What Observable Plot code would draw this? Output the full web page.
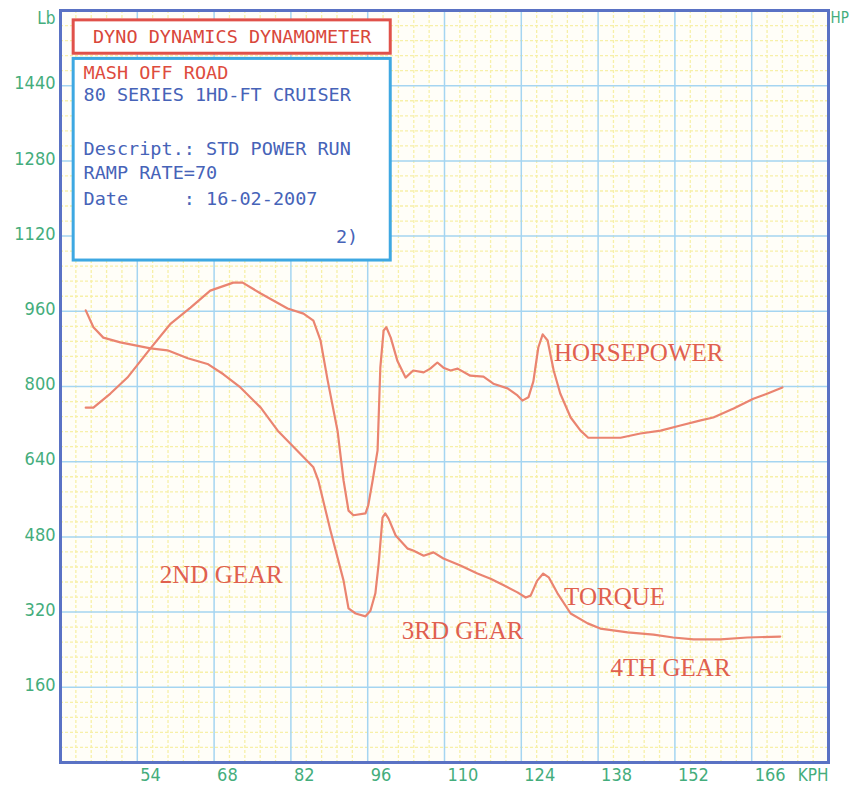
<!DOCTYPE html>
<html>
<head>
<meta charset="utf-8">
<script src="https://cdn.jsdelivr.net/npm/d3@7"></script>
<script src="https://cdn.jsdelivr.net/npm/@observablehq/plot@0.6"></script>
<style>
  html, body { margin: 0; padding: 0; background: #ffffff; }
  #chart { width: 850px; height: 786px; }
</style>
</head>
<body>
<div id="chart"></div>
<script>
// ---- Data read from the dyno sheet ----
// Torque (Lb) curve: speed in KPH and value
const torqueKph = [44.6, 46.0, 47.8, 50.9, 56.4, 59.5, 63.2, 66.8, 69.7, 72.8, 76.5, 79.6, 83.7, 86.1, 87.0, 89.2, 91.6, 92.5, 93.8, 95.6, 96.5, 97.4, 98.0, 98.7, 99.2, 99.8, 101.1, 103.3, 104.3, 106.2, 108.0, 109.8, 112.9, 116.0, 118.4, 120.8, 123.3, 124.8, 125.7, 126.9, 128.0, 129.0, 130.6, 133.0, 136.1, 138.4, 143.4, 148.1, 151.7, 155.4, 160.3, 165.2, 171.2];
const torqueLb  = [962, 926, 904, 894, 881, 877, 860, 848, 826, 798, 755, 706, 657, 628, 600, 494, 387, 328, 317, 311, 323, 360, 423, 521, 530, 519, 483, 455, 451, 440, 447, 434, 419, 402, 391, 377, 362, 351, 355, 387, 402, 394, 360, 317, 296, 285, 277, 272, 266, 262, 262, 266, 268];

// Horsepower curve: speed in KPH and value (same chart scale)
const hpKph = [44.6, 46.0, 49.1, 52.2, 56.4, 60.1, 63.7, 67.3, 71.5, 73.2, 76.5, 81.4, 84.3, 86.1, 87.4, 88.7, 90.5, 91.6, 92.5, 93.4, 95.6, 96.1, 96.9, 97.8, 98.3, 98.9, 99.4, 100.2, 101.4, 102.9, 104.3, 106.2, 107.4, 108.7, 109.8, 111.1, 112.4, 114.7, 117.1, 118.9, 121.5, 123.3, 124.2, 125.3, 126.2, 127.1, 127.9, 128.8, 129.9, 131.1, 133.0, 134.8, 136.2, 138.4, 142.1, 145.7, 149.4, 153.0, 156.7, 159.0, 162.7, 166.3, 168.9, 171.6];
const hpValue = [755, 755, 785, 819, 881, 934, 968, 1004, 1021, 1021, 998, 966, 955, 940, 898, 813, 706, 600, 536, 526, 530, 547, 600, 664, 840, 919, 926, 904, 855, 819, 834, 830, 838, 851, 840, 834, 838, 823, 821, 806, 796, 781, 770, 777, 811, 883, 911, 898, 834, 785, 734, 706, 691, 691, 691, 700, 706, 717, 728, 734, 753, 774, 785, 798];

// Axis tick labels
const xTickLabels = [54, 68, 82, 96, 110, 124, 138, 152, 166];
const yTickLabels = [160, 320, 480, 640, 800, 960, 1120, 1280, 1440];

// Curve annotations
const annoText = ["HORSEPOWER", "2ND GEAR", "3RD GEAR", "TORQUE", "4TH GEAR"];
const annoKph  = [145.4, 69.3, 113.3, 141.0, 151.2];
const annoVal  = [872, 400, 279, 353, 202];

// Info box text
const titleText = "DYNO DYNAMICS DYNAMOMETER";
const infoLines = ["MASH OFF ROAD", "80 SERIES 1HD-FT CRUISER", "Descript.: STD POWER RUN", "RAMP RATE=70", "Date\u00a0\u00a0\u00a0\u00a0\u00a0: 16-02-2007"];
const infoVal   = [1466, 1419, 1306, 1255, 1198];
const infoColor = ["#de4c3e", "#4663b8", "#4663b8", "#4663b8", "#4663b8"];

// ---- Build tables ----
const torque = torqueKph.map((k, i) => ({kph: k, v: torqueLb[i]}));
const hp = hpKph.map((k, i) => ({kph: k, v: hpValue[i]}));
const annos = annoText.map((t, i) => ({t, kph: annoKph[i], v: annoVal[i]}));
const info = infoLines.map((t, i) => ({t, v: infoVal[i], c: infoColor[i]}));

const xMin = 40, xMax = 180, yMin = 0, yMax = 1600;
const majorX = d3.range(xMin, xMax + 0.01, 14);
const majorY = d3.range(yMin, yMax + 0.01, 160);
const minorX = d3.range(xMin, xMax + 0.01, 2.8).filter(v => !majorX.some(m => Math.abs(m - v) < 0.01));
const minorY = d3.range(yMin, yMax + 0.01, 32).filter(v => !majorY.some(m => Math.abs(m - v) < 0.01));

const tickFont = "'Liberation Sans Narrow', 'DejaVu Sans Condensed', 'Roboto', sans-serif";
const monoFont = "'DejaVu Sans Mono', 'Liberation Mono', monospace";
const serifFont = "'Liberation Serif', 'DejaVu Serif', serif";
const green = "#44ad7c";
const curveColor = "#ea8470";

const chart = Plot.plot({
  width: 850,
  height: 786,
  marginLeft: 60,
  marginRight: 22,
  marginTop: 10,
  marginBottom: 24,
  x: {domain: [xMin, xMax], axis: null},
  y: {domain: [yMin, yMax], axis: null},
  style: {background: "#ffffff", overflow: "visible"},
  marks: [
    Plot.frame({fill: "#fffef8", stroke: "none"}),
    Plot.ruleX(minorX, {stroke: "#f7f0a8", strokeWidth: 1.3, strokeDasharray: "3,2"}),
    Plot.ruleY(minorY, {stroke: "#f7f0a8", strokeWidth: 1.3, strokeDasharray: "3,2"}),
    Plot.ruleX(majorX, {stroke: "#a5d5f1", strokeWidth: 1.5}),
    Plot.ruleY(majorY, {stroke: "#a5d5f1", strokeWidth: 1.5}),
    Plot.line(hp, {x: "kph", y: "v", stroke: curveColor, strokeWidth: 2.2, strokeLinejoin: "round"}),
    Plot.line(torque, {x: "kph", y: "v", stroke: curveColor, strokeWidth: 2.2, strokeLinejoin: "round"}),
    Plot.text(annos, {x: "kph", y: "v", text: "t", fill: "#e0604f", fontSize: 25, fontFamily: serifFont, textAnchor: "middle"}),
    // info box
    Plot.rect([{x1: 42.4, x2: 100.2, y1: 1068, y2: 1497}], {x1: "x1", x2: "x2", y1: "y1", y2: "y2", fill: "#ffffff", stroke: "#3ea8e2", strokeWidth: 3}),
    Plot.rect([{x1: 42.4, x2: 100.2, y1: 1508, y2: 1579}], {x1: "x1", x2: "x2", y1: "y1", y2: "y2", fill: "#ffffff", stroke: "#e0514a", strokeWidth: 3}),
    Plot.text([titleText], {x: 71.3, y: 1544, text: d => d, fill: "#d9473b", fontSize: 18.5, fontFamily: monoFont, textAnchor: "middle"}),
    Plot.text(info, {x: 44.2, y: "v", text: "t", fill: "c", fontSize: 18.5, fontFamily: monoFont, textAnchor: "start"}),
    Plot.text(["2)"], {x: 90.2, y: 1117, text: d => d, fill: "#4663b8", fontSize: 18.5, fontFamily: monoFont, textAnchor: "start"}),
    // outer frame
    Plot.frame({stroke: "#5a72c4", strokeWidth: 3}),
    // axis labels
    Plot.text(yTickLabels, {x: xMin, y: d => d, text: d => String(d), dx: -5, dy: -2, textAnchor: "end", fill: green, fontSize: 18, fontFamily: tickFont}),
    Plot.text(xTickLabels, {x: d => d, y: yMin, text: d => String(d), dx: 3, dy: 13, textAnchor: "start", fill: green, fontSize: 18, fontFamily: tickFont}),
    Plot.text(["KPH"], {x: xMax, y: yMin, text: d => d, dy: 13, textAnchor: "end", fill: green, fontSize: 17, fontFamily: tickFont}),
    Plot.text(["Lb"], {x: xMin, y: yMax, text: d => d, dx: -5, dy: 8, textAnchor: "end", fill: green, fontSize: 17, fontFamily: tickFont}),
    Plot.text(["HP"], {x: xMax, y: yMax, text: d => d, dx: 2, dy: 8, textAnchor: "start", fill: green, fontSize: 15, fontFamily: tickFont})
  ]
});
document.getElementById("chart").appendChild(chart);
</script>
</body>
</html>
